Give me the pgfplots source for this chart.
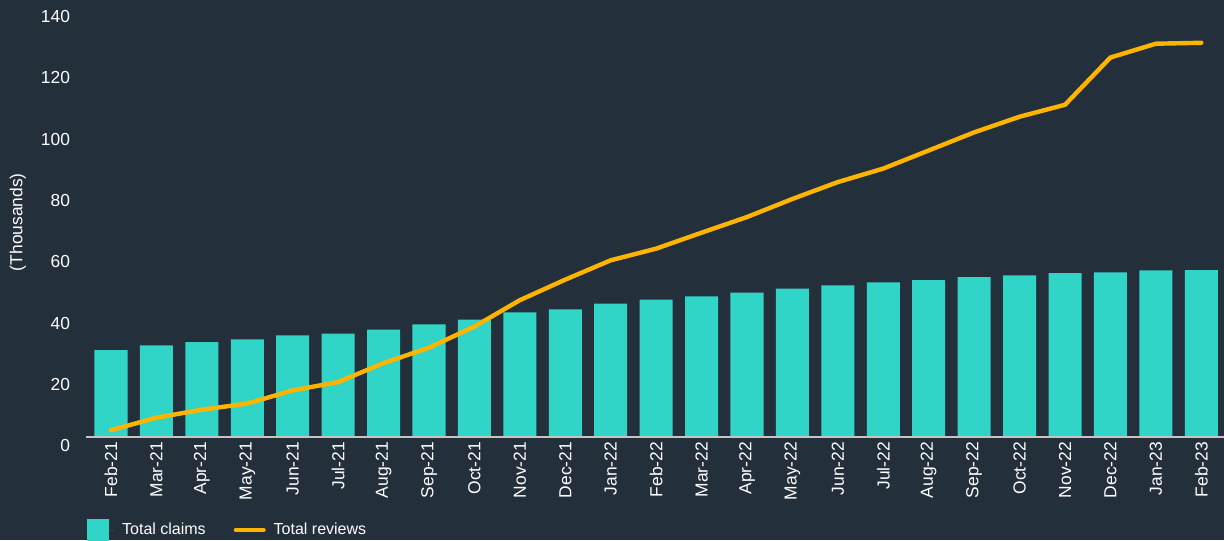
\documentclass[border=0pt]{standalone}
\usepackage{pgfplots}
\pgfplotsset{compat=1.18}
\usepackage{fontspec}
\setmainfont{Liberation Sans}
\definecolor{bg}{HTML}{242F3C}
\definecolor{barc}{HTML}{30D5C8}
\definecolor{lnc}{HTML}{FFB400}
\definecolor{axl}{HTML}{C4C4C4}
\begin{document}
\begin{tikzpicture}
\fill[bg] (0,0) rectangle (612pt,-270pt);
\begin{axis}[
  at={(43pt,-218.5pt)}, anchor=south west,
  scale only axis, width=569pt, height=214.75pt,
  xmin=-0.55, xmax=24.5, ymin=0, ymax=140,
  axis line style={draw=none},
  major tick length=0pt,
  tick style={draw=none},
  ytick={0,20,...,140},
  xtick={0,...,24},
  xticklabels={Feb-21,Mar-21,Apr-21,May-21,Jun-21,Jul-21,Aug-21,Sep-21,Oct-21,Nov-21,Dec-21,Jan-22,Feb-22,Mar-22,Apr-22,May-22,Jun-22,Jul-22,Aug-22,Sep-22,Oct-22,Nov-22,Dec-22,Jan-23,Feb-23},
  /pgf/number format/assume math mode=true,
  ticklabel style={font=\fontsize{8.7}{10}\selectfont, text=white},
  xticklabel style={rotate=90, anchor=east, xshift=1pt},
  yticklabel style={xshift=-4.5pt, yshift=-4.5pt},
  ylabel={(Thousands)},
  ylabel style={at={(axis description cs:-0.0598,0.5)}, anchor=center, font=\fontsize{8.7}{10}\selectfont, text=white},
  legend columns=2,
  legend cell align=left,
  legend style={at={(axis description cs:0.001,-0.2165)}, anchor=west, draw=none, fill=none, text=white,
    font=\fontsize{8}{9.6}\selectfont, inner sep=0pt, outer sep=0pt,
    nodes={inner sep=0pt, anchor=west},
    /tikz/every even column/.append style={column sep=14pt},
    /tikz/every odd column/.append style={column sep=4pt}},
]
\addplot[ybar, bar width=0.727, fill=barc, draw=none,
  legend image code/.code={\fill[barc] (0pt,-5.5pt) rectangle (11pt,5.5pt); \path (0pt,0pt) -- (13.5pt,0pt);}]
coordinates {
(0,28.3) (1,29.9) (2,30.9) (3,31.8) (4,33.1) (5,33.7) (6,35.0) (7,36.7) (8,38.3) (9,40.6)
(10,41.6) (11,43.5) (12,44.8) (13,45.8) (14,47.1) (15,48.4) (16,49.4) (17,50.4) (18,51.1) (19,52.1)
(20,52.7) (21,53.4) (22,53.7) (23,54.3) (24,54.4)
};
\addlegendentry{Total claims}
\addplot[lnc, line width=2.2pt, line join=round, line cap=round, mark=none,
  legend image code/.code={\draw[lnc, line width=2pt, line cap=round] (0pt,0pt) -- (14pt,0pt);}]
coordinates {
(0,2.2) (1,6.3) (2,8.9) (3,10.9) (4,15.2) (5,17.9) (6,24.1) (7,29.1) (8,36.0) (9,44.6)
(10,51.3) (11,57.6) (12,61.4) (13,66.6) (14,71.7) (15,77.6) (16,83.1) (17,87.5) (18,93.4) (19,99.3)
(20,104.4) (21,108.3) (22,123.7) (23,128.2) (24,128.5)
};
\addlegendentry{Total reviews}
\draw[axl, line width=1.1pt] (axis cs:-0.55,0) -- (axis cs:24.5,0);
\end{axis}
\pgfresetboundingbox
\path[use as bounding box] (0,0) rectangle (612pt,-270pt);
\end{tikzpicture}
\end{document}
